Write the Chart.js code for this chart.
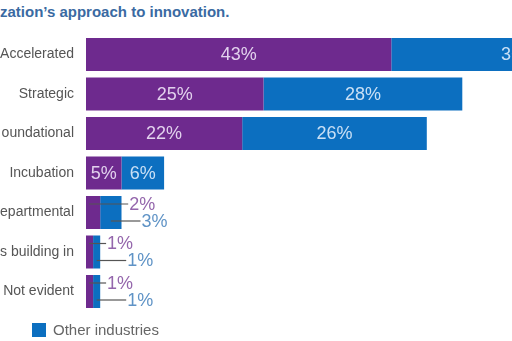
<!DOCTYPE html>
<html>
<head>
<meta charset="utf-8">
<script src="https://cdn.jsdelivr.net/npm/chart.js@4"></script>
<style>
  html, body { margin: 0; padding: 0; background: #fff; }
  #wrap { position: relative; width: 512px; height: 341px; overflow: hidden; font-family: "Liberation Sans", Arial, sans-serif; }
  #title { position: absolute; left: 0; top: 3px; font-size: 15px; font-weight: bold; color: #3a6aa2; white-space: nowrap; }
  #legend { position: absolute; left: 32px; top: 321px; font-size: 15px; color: #666; white-space: nowrap; }
  #legend span.box { display: inline-block; width: 14px; height: 14px; background: #0c6fc0; vertical-align: -2px; margin-right: 7px; }
  canvas { position: absolute; left: 0; top: 0; }
</style>
</head>
<body>
<div id="wrap">
  <div id="title">zation’s approach to innovation.</div>
  <canvas id="innovationChart" width="512" height="341"></canvas>
  <div id="legend"><span class="box"></span>Other industries</div>
</div>
<script>
// Data
const categories = ['Accelerated', 'Strategic', 'oundational', 'Incubation', 'epartmental', 's building in', 'Not evident'];
const purpleValues = [43, 25, 22, 5, 2, 1, 1];
const otherIndustries = [36, 28, 26, 6, 3, 1, 1];

const purpleColor = '#6e2a8e';
const blueColor = '#0c6fc0';

// labels: inside the bar when wide enough, else a callout with a leader line
const barLabels = {
    id: 'barLabels',
    afterDatasetsDraw(chart) {
        const ctx = chart.ctx;
        ctx.save();
        ctx.font = '18px "Liberation Sans", Arial, sans-serif';
        ctx.textBaseline = 'middle';
        chart.data.datasets.forEach((ds, di) => {
            const meta = chart.getDatasetMeta(di);
            meta.data.forEach((bar, i) => {
                const v = ds.data[i];
                const left = bar.base;
                const right = bar.x;
                if (v >= 5) {
                    ctx.fillStyle = di === 0 ? 'rgba(232,218,242,0.95)' : 'rgba(212,230,248,0.95)';
                    ctx.textAlign = 'center';
                    ctx.fillText(v + '%', (left + right) / 2, bar.y + 1);
                } else {
                    const mid = (left + right) / 2;
                    const y = di === 0 ? bar.y - 8.5 : bar.y + 8.5;
                    let lineEnd;
                    if (di === 0) {
                        lineEnd = v >= 2 ? right + 28 : right + 13;
                    } else {
                        lineEnd = v >= 3 ? right + 19 : right + 26;
                    }
                    ctx.strokeStyle = '#555';
                    ctx.lineWidth = 1.2;
                    ctx.beginPath();
                    ctx.moveTo(di === 0 ? left + 3 : mid, y);
                    ctx.lineTo(lineEnd, y);
                    ctx.stroke();
                    ctx.fillStyle = di === 0 ? '#9466ac' : '#5f93c6';
                    ctx.textAlign = 'left';
                    ctx.fillText(v + '%', lineEnd + 1, y + 1);
                }
            });
        });
        ctx.restore();
    }
};

const innovationCtx = document.getElementById('innovationChart').getContext('2d');
new Chart(innovationCtx, {
    type: 'bar',
    data: {
        labels: categories,
        datasets: [
            { label: 'Purple', data: purpleValues, backgroundColor: purpleColor },
            { label: 'Other industries', data: otherIndustries, backgroundColor: blueColor }
        ]
    },
    options: {
        indexAxis: 'y',
        responsive: false,
        animation: false,
        categoryPercentage: 1,
        barPercentage: 0.835,
        layout: { padding: { top: 34.75, bottom: 29.75, left: 0, right: 0 } },
        scales: {
            x: { stacked: true, display: false, min: 0, max: 60 },
            y: {
                stacked: true,
                grid: { display: false, drawTicks: false },
                border: { display: false },
                afterFit(scale) { scale.width = 86; },
                ticks: {
                    padding: 12,
                    color: '#555',
                    font: { family: '"Liberation Sans", Arial, sans-serif', size: 14 }
                }
            }
        },
        plugins: {
            legend: { display: false },
            tooltip: { enabled: false }
        }
    },
    plugins: [barLabels]
});
</script>
</body>
</html>
